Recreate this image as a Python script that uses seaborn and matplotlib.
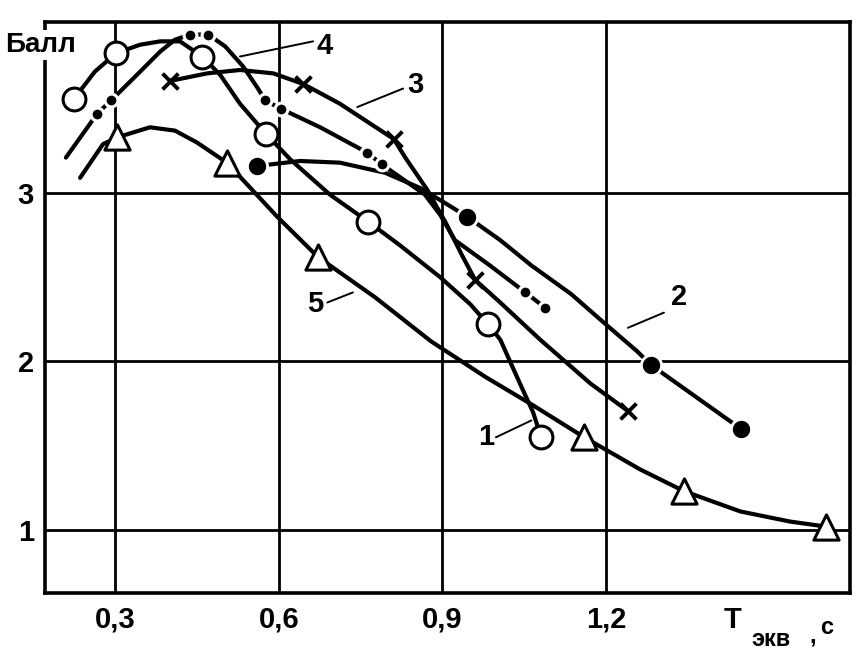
import matplotlib
matplotlib.use("Agg")
import matplotlib.pyplot as plt
import seaborn as sns

# Кривая 1 (светлые кружки)
x1 = [0.225, 0.302, 0.460, 0.577, 0.764, 0.984, 1.081]
y1 = [3.56, 3.83, 3.81, 3.35, 2.83, 2.22, 1.55]
lx1 = [0.225, 0.263, 0.302, 0.346, 0.383, 0.419, 0.460, 0.493, 0.529, 0.577,
       0.621, 0.694, 0.764, 0.822, 0.896, 0.951, 0.984, 1.006, 1.042, 1.066, 1.081]
ly1 = [3.56, 3.72, 3.83, 3.88, 3.90, 3.90, 3.81, 3.70, 3.53, 3.35,
       3.20, 2.99, 2.83, 2.69, 2.50, 2.34, 2.22, 2.13, 1.87, 1.70, 1.55]

# Кривая 2 (тёмные кружки)
x2 = [0.560, 0.945, 1.282, 1.447]
y2 = [3.16, 2.86, 1.98, 1.60]
lx2 = [0.560, 0.639, 0.712, 0.795, 0.859, 0.905, 0.945, 1.006, 1.063, 1.136,
       1.196, 1.257, 1.282, 1.447]
ly2 = [3.16, 3.19, 3.18, 3.12, 3.03, 2.94, 2.86, 2.72, 2.57, 2.40,
       2.23, 2.06, 1.98, 1.60]

# Кривая 3 (крестики)
x3 = [0.401, 0.645, 0.811, 0.960, 1.240]
y3 = [3.665, 3.647, 3.32, 2.484, 1.706]
lx3 = [0.401, 0.469, 0.529, 0.590, 0.645, 0.712, 0.811, 0.832, 0.872, 0.905,
       0.936, 0.960, 1.006, 1.079, 1.171, 1.240]
ly3 = [3.665, 3.71, 3.73, 3.71, 3.647, 3.53, 3.32, 3.21, 3.02, 2.83,
       2.63, 2.484, 2.35, 2.13, 1.87, 1.706]

# Кривая 4 (двойные точки)
x4 = [0.267, 0.293, 0.438, 0.471, 0.575, 0.604, 0.762, 0.789, 1.052, 1.088]
y4 = [3.47, 3.55, 3.94, 3.94, 3.55, 3.50, 3.24, 3.17, 2.41, 2.32]
lx4 = [0.210, 0.254, 0.267, 0.293, 0.346, 0.383, 0.410, 0.438, 0.471, 0.502,
       0.535, 0.562, 0.575, 0.604, 0.676, 0.762, 0.789, 0.868, 0.896, 0.923,
       0.987, 1.052, 1.088]
ly4 = [3.21, 3.41, 3.47, 3.55, 3.72, 3.84, 3.91, 3.94, 3.94, 3.87,
       3.75, 3.62, 3.55, 3.50, 3.39, 3.24, 3.17, 2.99, 2.87, 2.72,
       2.57, 2.41, 2.32]

# Кривая 5 (треугольники)
x5 = [0.304, 0.505, 0.672, 1.160, 1.343, 1.603]
y5 = [3.33, 3.18, 2.62, 1.55, 1.23, 1.02]
lx5 = [0.236, 0.278, 0.304, 0.364, 0.410, 0.450, 0.505, 0.597, 0.672, 0.777,
       0.879, 0.978, 1.066, 1.160, 1.262, 1.343, 1.446, 1.537, 1.603]
ly5 = [3.09, 3.29, 3.33, 3.39, 3.37, 3.30, 3.18, 2.86, 2.62, 2.38,
       2.12, 1.91, 1.74, 1.55, 1.36, 1.23, 1.11, 1.05, 1.02]

xticks = [0.3, 0.6, 0.9, 1.2]
xtick_labels = ["0,3", "0,6", "0,9", "1,2"]
yticks = [1, 2, 3]
ytick_labels = ["1", "2", "3"]
curve_names = ["1", "2", "3", "4", "5"]

sns.set_style("white")
plt.rcParams['font.family'] = ['Liberation Sans', 'DejaVu Sans']
plt.rcParams['font.weight'] = 'bold'
plt.rcParams['text.color'] = 'black'

fig = plt.figure(figsize=(8.62, 6.58), dpi=100)
ax = fig.add_axes([0.0522, 0.0988, 0.9339, 0.8678])

# линии
for lx, ly in [(lx1, ly1), (lx2, ly2), (lx3, ly3), (lx4, ly4), (lx5, ly5)]:
    sns.lineplot(x=lx, y=ly, sort=False, estimator=None, color='black',
                 lw=3.0, ax=ax, zorder=3)

# маркеры
sns.scatterplot(x=x1, y=y1, marker='o', s=270, color='white',
                edgecolor='black', linewidth=2.2, ax=ax, zorder=5)
sns.scatterplot(x=x2, y=y2, marker='o', s=210, color='black',
                edgecolor='white', linewidth=2.0, ax=ax, zorder=5)
sns.scatterplot(x=x3, y=y3, marker='x', s=130, color='black',
                linewidth=2.8, ax=ax, zorder=5)
sns.scatterplot(x=x4, y=y4, marker='o', s=85, color='black',
                edgecolor='white', linewidth=2.2, ax=ax, zorder=5)
sns.scatterplot(x=x5, y=y5, marker='^', s=330, color='white',
                edgecolor='black', linewidth=2.2, ax=ax, zorder=5)

# номера кривых с выносками
label_pos = {"1": (0.980, 1.55), "2": (1.334, 2.38), "3": (0.850, 3.64),
             "4": (0.685, 3.87), "5": (0.667, 2.34)}
leaders = {"1": ((0.998, 1.55), (1.063, 1.65)),
           "2": ((1.240, 2.20), (1.306, 2.29)),
           "3": ((0.744, 3.51), (0.828, 3.62)),
           "4": ((0.529, 3.81), (0.663, 3.90)),
           "5": ((0.689, 2.35), (0.736, 2.41))}
for name in curve_names:
    (ax0, ay0), (ax1, ay1) = leaders[name]
    ax.plot([ax0, ax1], [ay0, ay1], color='black', lw=1.4, zorder=4)
    ax.text(*label_pos[name], name, fontsize=21, ha='center', va='center',
            color='black', zorder=6)

ax.set_xlim(0.1717, 1.647)
ax.set_ylim(0.626, 4.015)
ax.set_xticks(xticks)
ax.set_xticklabels(xtick_labels)
ax.set_yticks(yticks)
ax.set_yticklabels(ytick_labels)
ax.tick_params(length=0, labelsize=21, colors='black', labelcolor='black')
ax.tick_params(axis='x', pad=9)
ax.tick_params(axis='y', pad=8)
ax.grid(True, color='black', lw=2.0)
ax.set_axisbelow(True)
for sp in ax.spines.values():
    sp.set_visible(True)
    sp.set_color('black')
    sp.set_linewidth(2.6)

# подписи осей
ax.text(0.098, 3.88, "Балл", fontsize=20, ha='left', va='center', color='black',
        bbox=dict(facecolor='white', edgecolor='none', pad=1.5), zorder=6)
ax.text(1.431, 0.466, "Т", fontsize=21, ha='center', va='center', color='black')
ax.text(1.503, 0.35, "экв", fontsize=17, ha='center', va='center', color='black')
ax.text(1.578, 0.37, ",", fontsize=17, ha='center', va='center', color='black')
ax.text(1.604, 0.42, "с", fontsize=17, ha='center', va='center', color='black')

fig.savefig("out.png", dpi=100)
